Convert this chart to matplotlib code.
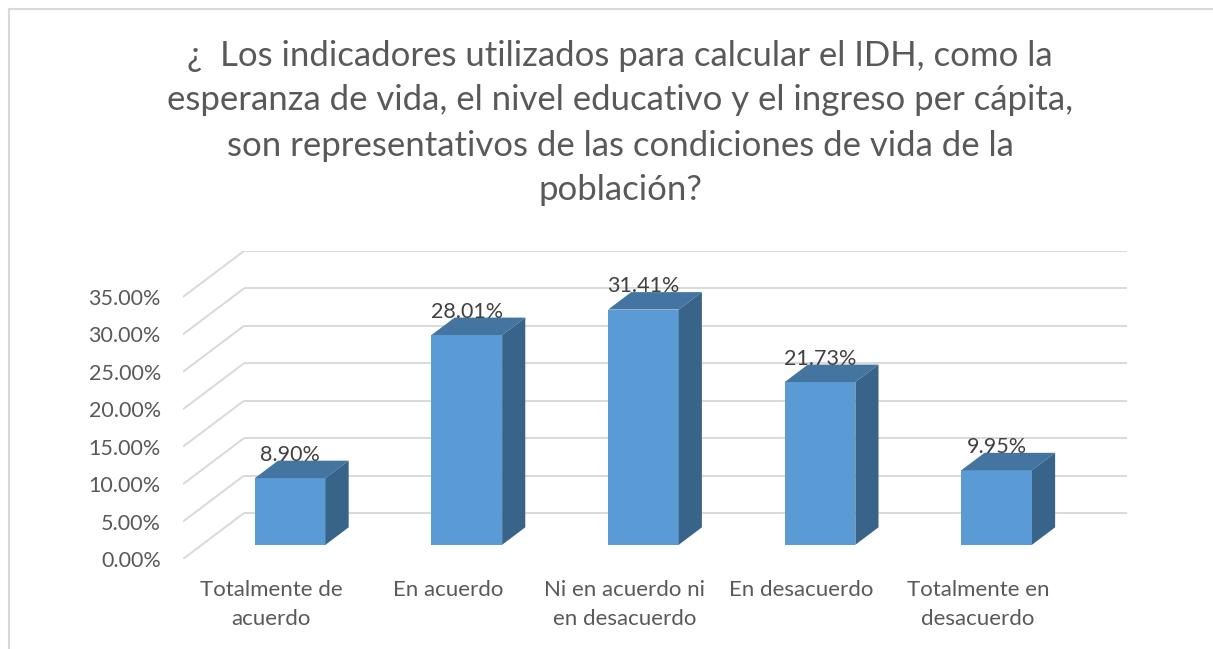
import matplotlib
matplotlib.use("Agg")
from matplotlib import pyplot as plt
from matplotlib.lines import Line2D
import numpy as np

plt.rcParams['font.family'] = ['Lato', 'DejaVu Sans']

categories = ["Totalmente de\nacuerdo", "En acuerdo", "Ni en acuerdo ni\nen desacuerdo",
              "En desacuerdo", "Totalmente en\ndesacuerdo"]
values = [8.90, 28.01, 31.41, 21.73, 9.95]
yticks = [0, 5, 10, 15, 20, 25, 30, 35]
title = ("¿  Los indicadores utilizados para calcular el IDH, como la\n"
         "esperanza de vida, el nivel educativo y el ingreso per cápita,\n"
         "son representativos de las condiciones de vida de la\n"
         "población?")

# oblique "3d" offsets (data units) for full depth of the plot box
DX = 0.345
DY = 6.13
d0, d1 = 0.31, 0.69
bw = 0.4
grid_c = "#D9D9D9"
front_c = "#5B9BD5"
top_c = "#4475A1"
side_c = "#39648A"

W, H = 1213, 649
fig = plt.figure(figsize=(W / 100, H / 100), dpi=100)
ax = fig.add_axes([183 / W, (H - 559) / H, (1127 - 183) / W, (559 - 251) / H])
n = len(values)
ax.set_xlim(0, n + DX)
ax.set_ylim(0, yticks[-1] + DY)
for s in ax.spines.values():
    s.set_visible(False)

# walls: back gridlines + diagonals on the side wall
for v in yticks:
    ax.plot([0, DX], [v, v + DY], color=grid_c, lw=1.4, zorder=1, solid_capstyle='butt')
    ax.plot([DX, n + DX], [v + DY, v + DY], color=grid_c, lw=1.4, zorder=1, solid_capstyle='butt')

# bars
x = np.arange(n) + 0.5
xf = x + d0 * DX
b0 = d0 * DY
ddx = (d1 - d0) * DX
ddy = (d1 - d0) * DY
ax.bar(xf, values, width=bw, bottom=b0, color=front_c, zorder=3, linewidth=0)
for xc, v in zip(xf, values):
    xl, xr = xc - bw / 2, xc + bw / 2
    ax.fill([xl, xr, xr + ddx, xl + ddx], [v + b0, v + b0, v + b0 + ddy, v + b0 + ddy],
            color=top_c, zorder=3, lw=0)
    ax.fill([xr, xr, xr + ddx, xr + ddx], [b0, v + b0, v + b0 + ddy, b0 + ddy],
            color=side_c, zorder=3, lw=0)
    ax.text(xc, v + b0 + ddy + 0.8, "%.2f%%" % v, ha='center', va='center',
            fontsize=15.5, color="#404040", zorder=4)

ax.set_yticks(yticks)
ax.set_yticklabels(["%.2f%%" % t for t in yticks], fontsize=15.5, color="#595959")
ax.set_xticks(x)
ax.set_xticklabels(categories, fontsize=16, color="#595959", linespacing=1.55)
ax.tick_params(axis='both', length=0)
ax.tick_params(axis='y', pad=16)
ax.tick_params(axis='x', pad=15)

fig.text(620 / W, 1 - 123 / H, title, ha='center', va='center', fontsize=25,
         color="#595959", linespacing=1.5)

# chart frame
fig.add_artist(Line2D([8.5 / W, 8.5 / W], [0, 1 - 8.5 / H], color=grid_c, lw=1.5))
fig.add_artist(Line2D([8.5 / W, 1], [1 - 8.5 / H, 1 - 8.5 / H], color=grid_c, lw=1.5))

fig.savefig("out.png", dpi=100)
